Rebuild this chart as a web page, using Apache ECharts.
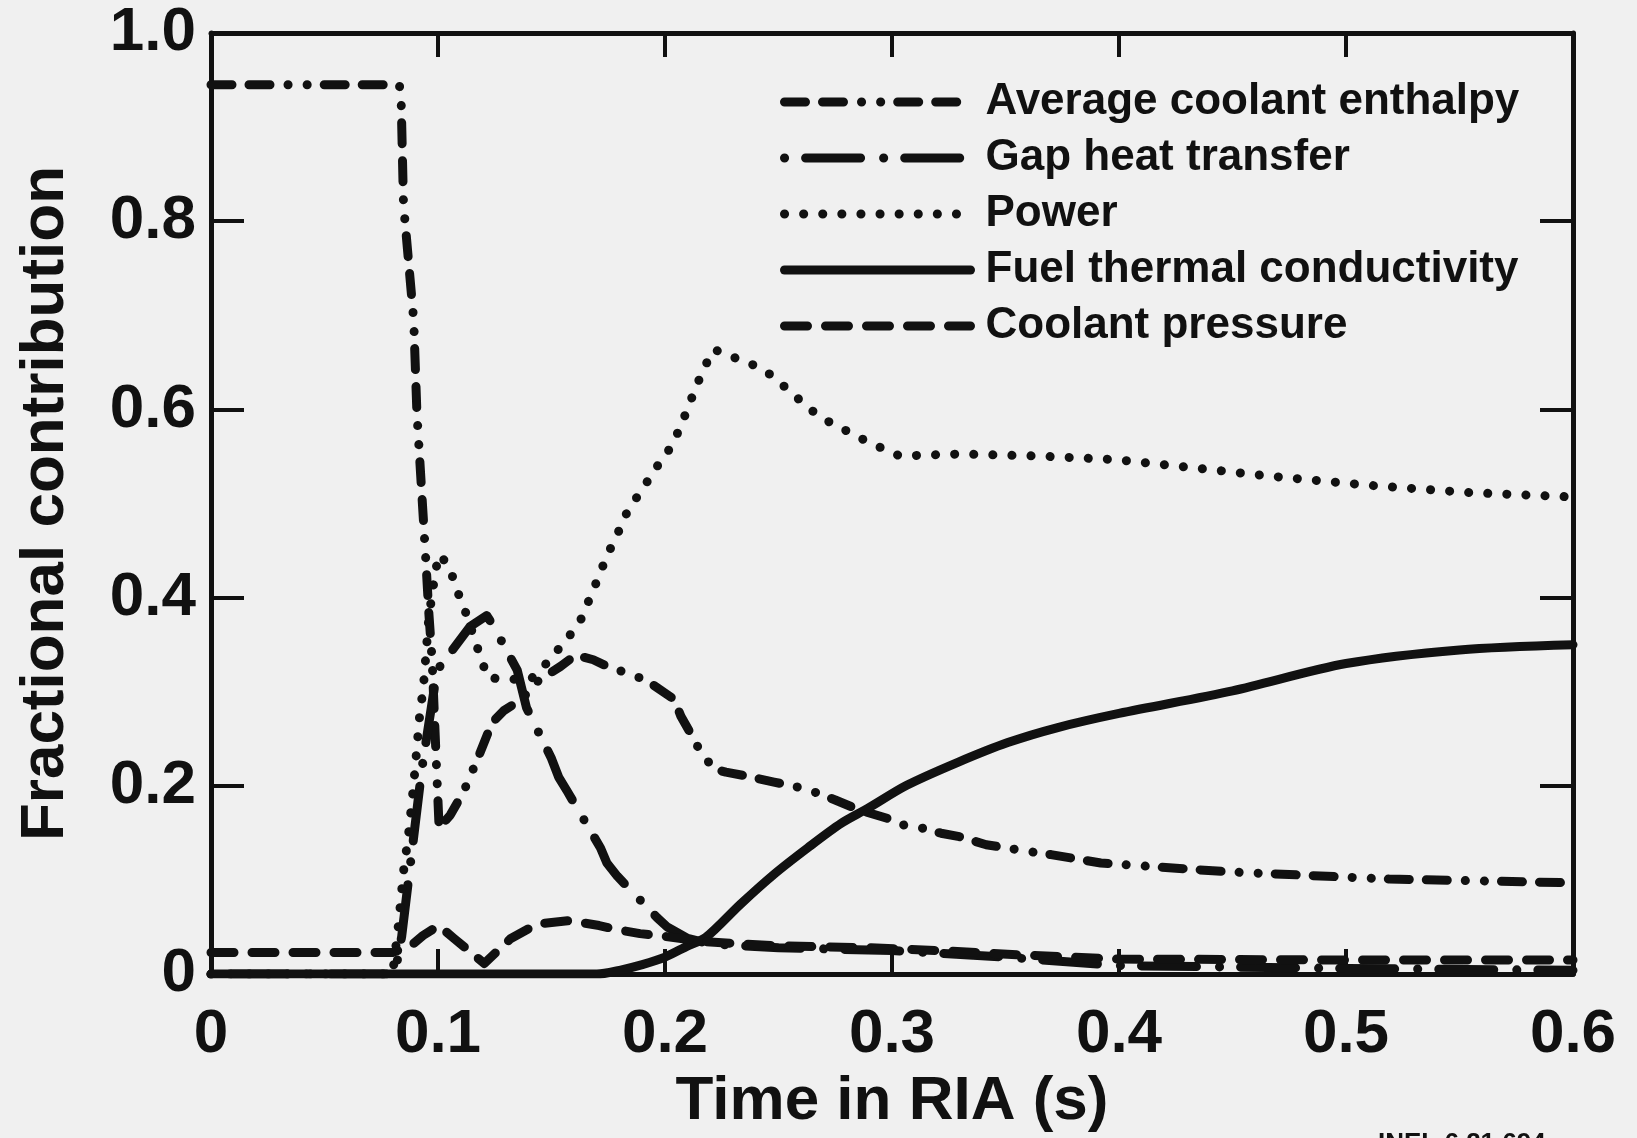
<!DOCTYPE html>
<html><head><meta charset="utf-8">
<script src="https://cdn.jsdelivr.net/npm/echarts@6/dist/echarts.min.js"></script>
<style>html,body{margin:0;padding:0;background:#f0f0f0}#c{width:1637px;height:1138px}</style>
</head><body><div id="c"></div>
<script>
const xTickLabels = ['0','0.1','0.2','0.3','0.4','0.5','0.6'];
const yTickLabels = ['0','0.2','0.4','0.6','0.8','1.0'];
const seriesNames = ['Average coolant enthalpy','Gap heat transfer','Power','Fuel thermal conductivity','Coolant pressure'];

const enthalpy = [[0,0.945],[0.083,0.945],[0.0838,0.925],[0.0848,0.818],[0.0893,0.695],[0.0907,0.597],[0.0929,0.509],[0.0944,0.45],[0.0959,0.386],[0.0974,0.334],[0.099,0.24],[0.1005,0.155],[0.1054,0.169],[0.1113,0.194],[0.118,0.232],[0.1238,0.267],[0.129,0.28],[0.1378,0.2935],[0.1407,0.306],[0.154,0.327],[0.1606,0.339],[0.1684,0.334],[0.1746,0.327],[0.1878,0.316],[0.1937,0.309],[0.204,0.292],[0.207,0.274],[0.211,0.257],[0.2157,0.236],[0.2216,0.218],[0.2268,0.2146],[0.2348,0.211],[0.248,0.204],[0.258,0.199],[0.2657,0.1936],[0.275,0.185],[0.286,0.174],[0.298,0.1655],[0.305,0.1585],[0.3135,0.155],[0.3216,0.1497],[0.3297,0.146],[0.3415,0.1375],[0.361,0.13],[0.37,0.127],[0.392,0.118],[0.448,0.1087],[0.519,0.101],[0.6,0.097]];
const gapHeat = [[0,0],[0.081,0],[0.084,0.04],[0.088,0.12],[0.093,0.22],[0.0996,0.323],[0.105,0.34],[0.114,0.369],[0.1215,0.381],[0.1246,0.369],[0.1349,0.323],[0.139,0.283],[0.15,0.229],[0.1532,0.209],[0.157,0.194],[0.1716,0.134],[0.1744,0.118],[0.179,0.104],[0.1965,0.06],[0.201,0.05],[0.21,0.038],[0.22,0.032],[0.25,0.028],[0.3,0.025],[0.35,0.018],[0.4,0.009],[0.5,0.006],[0.6,0.004]];
const power = [[0,0],[0.08,0],[0.0826,0.053],[0.0848,0.109],[0.087,0.148],[0.0893,0.202],[0.0908,0.243],[0.0922,0.283],[0.0934,0.3],[0.096,0.38],[0.099,0.43],[0.1006,0.446],[0.105,0.433],[0.1073,0.4156],[0.1098,0.3987],[0.1124,0.383],[0.1194,0.332],[0.122,0.3146],[0.129,0.3138],[0.1349,0.313],[0.1407,0.313],[0.1466,0.327],[0.1518,0.3416],[0.1576,0.3584],[0.1628,0.376],[0.1657,0.3927],[0.169,0.4117],[0.172,0.43],[0.1753,0.4489],[0.179,0.467],[0.182,0.4853],[0.1863,0.502],[0.1915,0.5208],[0.1966,0.5397],[0.202,0.558],[0.2061,0.5776],[0.2099,0.6004],[0.2135,0.623],[0.2172,0.644],[0.2215,0.664],[0.2275,0.6576],[0.2368,0.6498],[0.2448,0.64],[0.2506,0.6284],[0.2563,0.6167],[0.2634,0.601],[0.2716,0.5877],[0.281,0.576],[0.289,0.566],[0.2964,0.558],[0.3034,0.5506],[0.33,0.5527],[0.3635,0.5506],[0.3988,0.5467],[0.4365,0.537],[0.467,0.529],[0.5095,0.5195],[0.554,0.5117],[0.6,0.507]];
const fuelK = [[0,0],[0.17,0],[0.18,0.004],[0.19,0.01],[0.2,0.018],[0.21,0.03],[0.218,0.039],[0.2333,0.0744],[0.248,0.106],[0.2628,0.134],[0.2775,0.16],[0.2893,0.176],[0.3065,0.2006],[0.329,0.225],[0.351,0.246],[0.373,0.262],[0.4,0.277],[0.45,0.301],[0.5,0.33],[0.55,0.3445],[0.6,0.35]];
const pressure = [[0,0.023],[0.08,0.023],[0.088,0.03],[0.0934,0.041],[0.1003,0.0516],[0.107,0.038],[0.1204,0.0113],[0.1319,0.0375],[0.1437,0.0533],[0.158,0.0568],[0.171,0.0516],[0.1774,0.048],[0.189,0.043],[0.2,0.04],[0.208,0.0375],[0.22,0.034],[0.25,0.03],[0.29,0.028],[0.32,0.025],[0.36,0.02],[0.4,0.016],[0.5,0.015],[0.6,0.015]];

const INK = '#111';
const FONT = "'Liberation Sans', Arial, sans-serif";
const LW = 9;
const dashes = [
  [21,17,21,18,0.1,19,0.1,17],
  [0.1,21,55,23],
  [0.1,19],
  'solid',
  [23,18]
];
const smoothing = [false,false,false,0.3,false];
const datasets = [enthalpy, gapHeat, power, fuelK, pressure];

const chart = echarts.init(document.getElementById('c'), null, {renderer:'canvas'});
const axisLine = {show:true, onZero:false, lineStyle:{color:INK, width:5}};
const option = {
  backgroundColor:'#f0f0f0',
  animation:false,
  grid:{left:211, right:64, top:33, bottom:150, containLabel:false},
  legend:{
    orient:'vertical', left:780, top:74, padding:0, itemGap:0,
    itemWidth:186, itemHeight:14,
    data: seriesNames.map((n,i)=>({
      name:n,
      itemStyle:{opacity:0},
      lineStyle:{color:INK, width:LW, type:dashes[i], cap:'round', join:'round', opacity:1}
    })),
    textStyle:{fontFamily:FONT, fontWeight:'bold', fontSize:44, color:INK, lineHeight:40, padding:[0,0,16,10]}
  },
  xAxis:[{
    type:'value', min:0, max:0.6, interval:0.1, position:'bottom',
    axisLine:axisLine,
    axisTick:{show:true, inside:true, length:25, lineStyle:{color:INK, width:4}},
    splitLine:{show:false},
    axisLabel:{margin:30, fontFamily:FONT, fontWeight:'bold', fontSize:62, color:INK,
      formatter:v=>xTickLabels[Math.round(v/0.1)]},
    name:'Time in RIA (s)', nameLocation:'middle', nameGap:88,
    nameTextStyle:{fontFamily:FONT, fontWeight:'bold', fontSize:62, color:INK}
  },{
    type:'value', min:0, max:0.6, interval:0.1, position:'top',
    axisLine:axisLine,
    axisTick:{show:true, inside:true, length:24, lineStyle:{color:INK, width:4}},
    splitLine:{show:false}, axisLabel:{show:false}
  }],
  yAxis:[{
    type:'value', min:0, max:1, interval:0.2, position:'left',
    axisLine:axisLine,
    axisTick:{show:true, inside:true, length:33, lineStyle:{color:INK, width:4}},
    splitLine:{show:false},
    axisLabel:{margin:15, fontFamily:FONT, fontWeight:'bold', fontSize:62, color:INK, padding:[12,0,0,0],
      formatter:v=>yTickLabels[Math.round(v/0.2)]},
    name:'Fractional contribution', nameLocation:'middle', nameGap:134, nameRotate:90,
    nameTextStyle:{fontFamily:FONT, fontWeight:'bold', fontSize:62, color:INK}
  },{
    type:'value', min:0, max:1, interval:0.2, position:'right',
    axisLine:axisLine,
    axisTick:{show:true, inside:true, length:33, lineStyle:{color:INK, width:4}},
    splitLine:{show:false}, axisLabel:{show:false}
  }],
  graphic:[{
    type:'text', left:1378, top:1131,
    style:{text:'INEL 6 21 694', fontFamily:FONT, fontWeight:'bold', fontSize:26, fill:INK}
  }],
  series: seriesNames.map((name,i)=>({
    name:name, type:'line', xAxisIndex:0, yAxisIndex:0,
    data:datasets[i], symbol:'none', smooth:smoothing[i],
    lineStyle:{color:INK, width:LW, type:dashes[i], cap:'round', join:'round'},
    itemStyle:{color:INK},
    emphasis:{disabled:true}, silent:true
  }))
};
chart.setOption(option);
</script>
</body></html>
